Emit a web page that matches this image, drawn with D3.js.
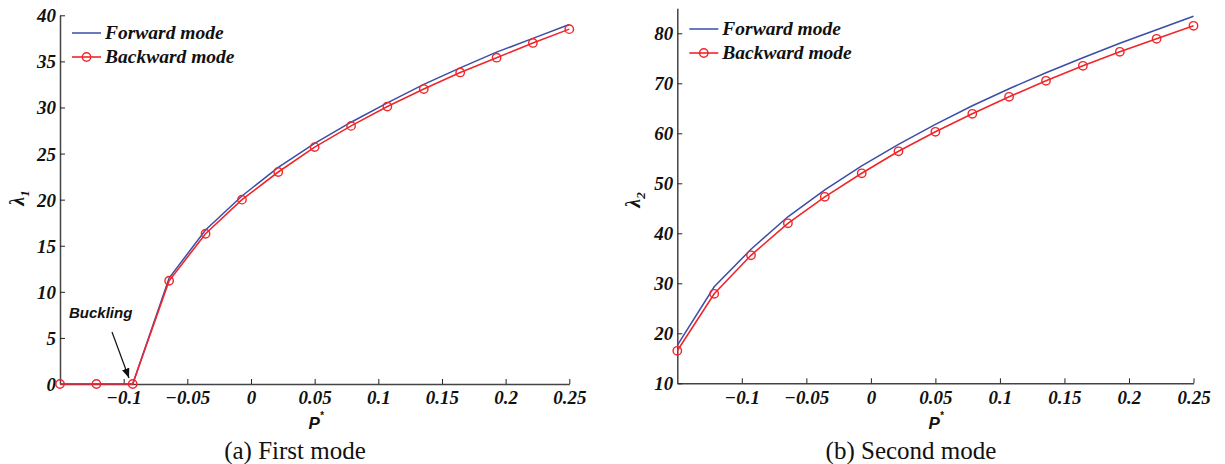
<!DOCTYPE html>
<html>
<head>
<meta charset="utf-8">
<script src="https://cdn.jsdelivr.net/npm/d3@7"></script>
<style>
  body { margin: 0; background: #fff; }
  svg { display: block; }
  .tick text { font-family: "Liberation Serif", "Times New Roman", serif; font-weight: bold; font-style: italic; font-size: 19px; fill: #111; }
  .leg { font-family: "Liberation Serif", "Times New Roman", serif; font-weight: bold; font-style: italic; font-size: 19.5px; fill: #111; }
  .ylab { font-family: "Liberation Serif", "Times New Roman", serif; font-weight: bold; font-style: italic; font-size: 20px; fill: #111; }
  .xlab { font-family: "Liberation Sans", Arial, sans-serif; font-weight: bold; font-style: italic; font-size: 17px; fill: #111; }
  .cap { font-family: "Liberation Serif", "Times New Roman", serif; font-size: 25px; fill: #111; }
  .note { font-family: "Liberation Sans", Arial, sans-serif; font-weight: bold; font-style: italic; font-size: 15px; fill: #111; }
</style>
</head>
<body>
<div id="chart"></div>
<script>
// load parameter P* (same for both modes)
var pStar = [-0.15, -0.1214, -0.0929, -0.0643, -0.0357, -0.0071, 0.0214, 0.05,
             0.0786, 0.1071, 0.1357, 0.1643, 0.1929, 0.2214, 0.25];

// first mode frequency
var fwd1 = [0, 0, 0, 11.5, 16.7, 20.4, 23.5, 26.1, 28.4, 30.5, 32.5, 34.3, 36.0, 37.5, 39.0];
var bwd1 = [0, 0, 0, 11.2, 16.3, 20.0, 23.0, 25.7, 28.0, 30.1, 32.0, 33.8, 35.4, 37.0, 38.5];

// second mode frequency
var fwd2 = [17.6, 29.3, 36.8, 43.3, 48.7, 53.5, 57.8, 61.8, 65.5, 68.9, 72.1, 75.1, 78.0, 80.7, 83.4];
var bwd2 = [16.5, 27.9, 35.6, 42.0, 47.3, 52.0, 56.4, 60.3, 63.9, 67.3, 70.5, 73.5, 76.3, 78.9, 81.5];

var xTicks = [-0.1, -0.05, 0, 0.05, 0.1, 0.15, 0.2, 0.25];
var yTicks1 = [0, 5, 10, 15, 20, 25, 30, 35, 40];
var yTicks2 = [10, 20, 30, 40, 50, 60, 70, 80];
var legendNames = ['Forward mode', 'Backward mode'];

var blue = '#3a4ea6';
var red = '#f0262a';

var svg = d3.select('#chart').append('svg')
    .attr('width', 1225)
    .attr('height', 464);

var drawPanel = function(opt) {
    var x = d3.scaleLinear().domain([-0.15, 0.25]).range([opt.left, opt.right]);
    var y = d3.scaleLinear().domain(opt.yDomain).range([opt.bottom, opt.top]);
    var g = svg.append('g');

    var xAxis = g.append('g')
        .attr('transform', 'translate(0,' + opt.bottom + ')')
        .call(d3.axisBottom(x).tickValues(xTicks).tickSizeInner(-5).tickSizeOuter(0)
              .tickPadding(7).tickFormat(function(d){ return d3.format('')(+d.toFixed(2)); }));
    var yAxis = g.append('g')
        .attr('transform', 'translate(' + opt.left + ',0)')
        .call(d3.axisLeft(y).tickValues(opt.yTicks).tickSizeInner(-5).tickSizeOuter(0).tickPadding(4));
    [xAxis, yAxis].forEach(function(a){
        a.select('.domain').attr('stroke', '#444').attr('stroke-width', 1.5);
        a.selectAll('.tick line').attr('stroke', '#222').attr('stroke-width', 1);
    });
    yAxis.selectAll('.tick text').attr('dy', '0.34em');

    var line = d3.line().x(function(d, i){ return x(pStar[i]); }).y(function(d){ return y(d); });
    g.append('path').datum(opt.fwd)
        .attr('d', line).attr('fill', 'none').attr('stroke', blue).attr('stroke-width', 1.5);
    g.append('path').datum(opt.bwd)
        .attr('d', line).attr('fill', 'none').attr('stroke', red).attr('stroke-width', 1.6);
    g.selectAll('circle.pt').data(opt.bwd).enter().append('circle')
        .attr('class', 'pt')
        .attr('cx', function(d, i){ return x(pStar[i]); })
        .attr('cy', function(d){ return y(d); })
        .attr('r', 4.2)
        .attr('fill', 'none').attr('stroke', red).attr('stroke-width', 1.4);

    // legend
    var lx = opt.left + 12, ly = opt.legendY;
    legendNames.forEach(function(name, i){
        var yy = ly + i * 24;
        g.append('line').attr('x1', lx).attr('x2', lx + 29).attr('y1', yy).attr('y2', yy)
            .attr('stroke', i ? red : blue).attr('stroke-width', i ? 1.6 : 1.5);
        if (i) g.append('circle').attr('cx', lx + 14.5).attr('cy', yy).attr('r', 4.2)
            .attr('fill', 'none').attr('stroke', red).attr('stroke-width', 1.4);
        g.append('text').attr('class', 'leg').attr('x', lx + 33).attr('y', yy + 6).text(name);
    });

    // axis labels
    var yl = g.append('text').attr('class', 'ylab')
        .attr('transform', 'translate(' + opt.yLabelX + ',' + opt.yLabelY + ') rotate(-90)')
        .attr('text-anchor', 'middle');
    yl.append('tspan').text('\u03bb');
    yl.append('tspan').attr('font-size', '13px').attr('dy', 5).text(opt.sub);

    var xl = g.append('text').attr('class', 'xlab')
        .attr('x', opt.xLabelX).attr('y', 429).attr('text-anchor', 'middle');
    xl.append('tspan').text('P');
    xl.append('tspan').attr('font-size', '10px').attr('dy', -10).text('*');

    g.append('text').attr('class', 'cap').attr('x', opt.capX).attr('y', 459)
        .attr('text-anchor', 'middle').text(opt.caption);
    return {x: x, y: y, g: g};
};

var p1 = drawPanel({left: 60, right: 569.3, top: 15.3, bottom: 384, yDomain: [0, 40], yTicks: yTicks1,
    fwd: fwd1, bwd: bwd1, legendY: 33, sub: '1', yLabelX: 24, yLabelY: 198, xLabelX: 316,
    capX: 295, caption: '(a) First mode'});
var p2 = drawPanel({left: 677.3, right: 1193.5, top: 8.3, bottom: 383.3, yDomain: [10, 85], yTicks: yTicks2,
    fwd: fwd2, bwd: bwd2, legendY: 29, sub: '2', yLabelX: 640, yLabelY: 200, xLabelX: 936,
    capX: 911, caption: '(b) Second mode'});

// buckling annotation
svg.append('defs').append('marker')
    .attr('id', 'arr').attr('viewBox', '0 0 10 10').attr('refX', 10).attr('refY', 5)
    .attr('markerWidth', 8).attr('markerHeight', 8).attr('orient', 'auto')
    .append('path').attr('d', 'M0,1 L10,5 L0,9 z').attr('fill', '#111');
svg.append('line')
    .attr('x1', 112).attr('y1', 332).attr('x2', 129).attr('y2', 378)
    .attr('stroke', '#111').attr('stroke-width', 1.2).attr('marker-end', 'url(#arr)');
svg.append('text').attr('class', 'note').attr('x', 69).attr('y', 318).text('Buckling');
</script>
</body>
</html>
